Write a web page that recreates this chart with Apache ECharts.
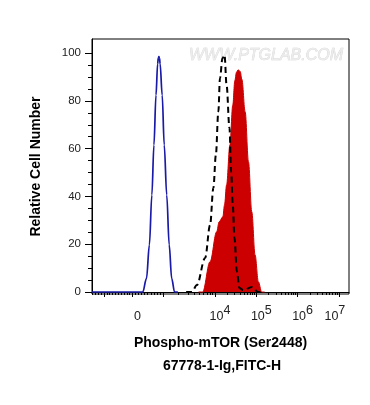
<!DOCTYPE html>
<html><head><meta charset="utf-8">
<script src="https://cdn.jsdelivr.net/npm/echarts@6/dist/echarts.min.js"></script>
<style>html,body{margin:0;padding:0;background:#fff}#c{width:370px;height:405px}</style>
</head><body><div id="c"></div>
<script>
// X axis is in display (logicle-like) units: 0 -> 2, 10^4 -> 4, 10^5 -> 5, 10^6 -> 6, 10^7 -> 7
const xLabelValues = [2, 4, 5, 6, 7];
const xLabelBases = ['0', '10', '10', '10', '10'];
const xLabelExps = ['', '4', '5', '6', '7'];
const yLabelValues = [0, 20, 40, 60, 80, 100];

// Isotype control (blue)
const blueX = [1.02, 2.1, 2.25, 2.34, 2.41, 2.47, 2.52, 2.57, 2.61, 2.625, 2.64, 2.655, 2.67, 2.72, 2.77, 2.83, 2.89, 2.95, 3.02, 3.1];
const blueY = [0, 0, 0, 5.7, 19.7, 40.6, 61.5, 82.4, 95.5, 97.9, 98.5, 97.9, 95.5, 82.4, 61.5, 40.6, 19.7, 5.7, 0, 0];

// Unstained / blank (black dashed)
const dashX = [3.3, 3.44, 3.56, 3.76, 3.88, 3.96, 4.02, 4.08, 4.12, 4.18, 4.23, 4.28, 4.35, 4.39, 4.43, 4.47, 4.53, 4.59, 4.68, 4.9, 5.04, 5.2];
const dashY = [0, 0, 2.9, 14.2, 28.0, 43.5, 57.3, 75.4, 89.5, 97.8, 99.2, 86.6, 68.6, 50.3, 36.4, 22.6, 8.5, 1.7, 0.8, 2.1, 0, 0];

// Phospho-mTOR (red filled)
const redX = [3.6, 3.7, 3.88, 4.04, 4.10, 4.19, 4.23, 4.28, 4.36, 4.43, 4.48, 4.52, 4.56, 4.61, 4.65, 4.73, 4.81, 4.89, 4.97, 5.05, 5.13, 5.2];
const redY = [0, 0, 12.7, 25.2, 29.4, 31.5, 36.4, 44.8, 61.5, 78.2, 88.5, 92.0, 93.0, 92.3, 89.0, 75.4, 54.5, 33.6, 15.5, 4.3, 0, 0];

const pairs = (xs, ys) => xs.map((x, i) => [x, ys[i]]);

const X_MIN = 1.02, X_MAX = 7.245, Y_MIN = -0.84, Y_MAX = 105.9;

// axis tick positions (axis configuration)
const xMajorTicks = [1.31, 2.0, 2.74, 4, 5, 6, 7];
const xMinorTicks = [];
for (let v = 1.03; v < 1.31; v += 0.069) xMinorTicks.push(+v.toFixed(3));
for (let v = 1.38; v < 1.99; v += 0.069) xMinorTicks.push(+v.toFixed(3));
for (let v = 2.074; v < 2.73; v += 0.074) xMinorTicks.push(+v.toFixed(3));
for (let k = 2; k <= 9; k++) xMinorTicks.push(+(2.74 + 1.26 * Math.log10(k)).toFixed(3));
for (let d = 4; d <= 6; d++) for (let k = 2; k <= 9; k++) xMinorTicks.push(+(d + Math.log10(k)).toFixed(3));
for (let k = 2; k <= 9; k++) { const v = 7 + Math.log10(k); if (v < X_MAX) xMinorTicks.push(v); }
const yMinorTicks = [];
for (let v = 5; v < 105; v += 5) if (v % 20) yMinorTicks.push(v);

const FONT = "'Liberation Sans', Arial, sans-serif";
const chart = echarts.init(document.getElementById('c'), null, { renderer: 'canvas' });

chart.setOption({
  animation: false,
  backgroundColor: '#fff',
  grid: { left: 92, right: 21, top: 39, bottom: 111, show: true, borderColor: '#000', borderWidth: 1, backgroundColor: 'transparent' },
  xAxis: [{
    type: 'value', min: X_MIN, max: X_MAX, position: 'bottom',
    name: 'Phospho-mTOR (Ser2448)', nameLocation: 'middle', nameGap: 42,
    nameTextStyle: { fontFamily: FONT, fontWeight: 'bold', fontSize: 14, color: '#000' },
    axisLine: { show: true, lineStyle: { color: '#000', width: 1 } },
    axisTick: { show: true, customValues: xMajorTicks, length: 5, lineStyle: { color: '#000', width: 1 } },
    splitLine: { show: false },
    axisLabel: {
      customValues: xLabelValues, margin: 10, padding: [0, 0, 0, 10],
      formatter: function (v) {
        const i = xLabelValues.findIndex(p => Math.abs(p - v) < 1e-6);
        if (i < 0) return '';
        if (!xLabelExps[i]) return '{a|' + xLabelBases[i] + '}';
        if (xLabelExps[i] === '7') return '{a|' + xLabelBases[i] + '}{b|' + xLabelExps[i] + '}{s|}';
        return '{a|' + xLabelBases[i] + '}{b|' + xLabelExps[i] + '}';
      },
      rich: {
        a: { fontFamily: FONT, fontSize: 12.5, color: '#222', lineHeight: 19, verticalAlign: 'bottom' },
        b: { fontFamily: FONT, fontSize: 12.5, color: '#222', lineHeight: 19, verticalAlign: 'top' },
        s: { width: 18 }
      }
    }
  }, {
    type: 'value', min: X_MIN, max: X_MAX, position: 'bottom', offset: 0,
    axisLine: { show: false }, splitLine: { show: false }, axisLabel: { show: false },
    axisTick: { show: true, customValues: xMinorTicks, length: 3, lineStyle: { color: '#000', width: 1 } }
  }],
  yAxis: [{
    type: 'value', min: Y_MIN, max: Y_MAX, position: 'left',
    name: 'Relative Cell Number', nameLocation: 'middle', nameGap: 49, nameRotate: 90,
    nameTextStyle: { fontFamily: FONT, fontWeight: 'bold', fontSize: 14, color: '#000' },
    axisLine: { show: true, lineStyle: { color: '#000', width: 1 } },
    axisTick: { show: true, customValues: yLabelValues, length: 7, lineStyle: { color: '#000', width: 1 } },
    splitLine: { show: false },
    axisLabel: { customValues: yLabelValues, margin: 11, fontFamily: FONT, fontSize: 11.5, color: '#222' }
  }, {
    type: 'value', min: Y_MIN, max: Y_MAX, position: 'left', offset: 0,
    axisLine: { show: false }, splitLine: { show: false }, axisLabel: { show: false },
    axisTick: { show: true, customValues: yMinorTicks, length: 4, lineStyle: { color: '#000', width: 1 } }
  }],
  graphic: [
    { type: 'text', x: 266, y: 56, z: 1, style: { text: 'WWW.PTGLAB.COM', font: 'italic 16px ' + FONT, fill: '#ececec', stroke: '#d0d0d0', lineWidth: 0.6, textAlign: 'center', textVerticalAlign: 'middle' } },
    { type: 'text', x: 222, y: 366, style: { text: '67778-1-Ig,FITC-H', font: 'bold 14px ' + FONT, fill: '#000', textAlign: 'center', textVerticalAlign: 'middle' } }
  ],
  series: [
    { type: 'line', name: 'Phospho-mTOR', data: pairs(redX, redY), xAxisIndex: 0, yAxisIndex: 0,
      showSymbol: false, smooth: 0.35, smoothMonotone: 'x',
      lineStyle: { color: '#cc0000', width: 1 }, areaStyle: { color: '#cc0000', opacity: 1 }, z: 3 },
    { type: 'line', name: 'Blank', data: pairs(dashX, dashY), xAxisIndex: 0, yAxisIndex: 0,
      showSymbol: false, smooth: 0.35, smoothMonotone: 'x',
      lineStyle: { color: '#000', width: 2, type: [6, 4] }, z: 4 },
    { type: 'line', name: 'Isotype', data: pairs(blueX, blueY), xAxisIndex: 0, yAxisIndex: 0,
      showSymbol: false, smooth: 0.35, smoothMonotone: 'x',
      lineStyle: { color: '#1a1aa8', width: 1.7 }, z: 5 }
  ]
});
</script></body></html>
